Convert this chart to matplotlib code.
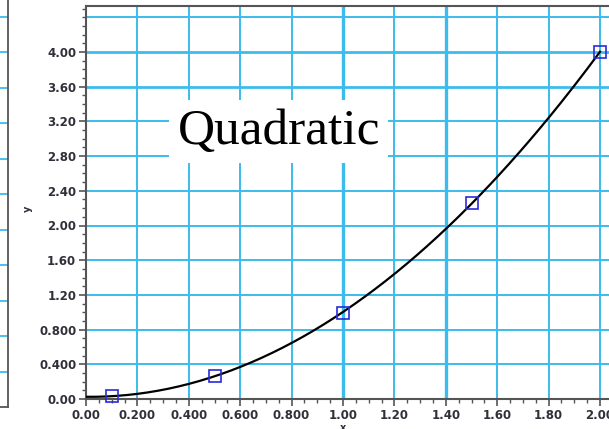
import numpy as np
import matplotlib
matplotlib.use("Agg")
import matplotlib.pyplot as plt
from matplotlib.ticker import FixedLocator, MultipleLocator

# ---- data ----
x_pts = [0.1, 0.5, 1.0, 1.5, 2.0]
y_pts = [0.03, 0.27, 0.99, 2.26, 4.00]
x_ticks = [0.0, 0.2, 0.4, 0.6, 0.8, 1.0, 1.2, 1.4, 1.6, 1.8, 2.0]
x_tick_labels = ["0.00", "0.200", "0.400", "0.600", "0.800", "1.00",
                 "1.20", "1.40", "1.60", "1.80", "2.00"]
y_ticks = [0.0, 0.4, 0.8, 1.2, 1.6, 2.0, 2.4, 2.8, 3.2, 3.6, 4.0]
y_tick_labels = ["0.00", "0.400", "0.800", "1.20", "1.60", "2.00",
                 "2.40", "2.80", "3.20", "3.60", "4.00"]
x_grid = [0.2, 0.4, 0.6, 0.8, 1.0, 1.2, 1.4, 1.6, 1.8, 2.0]
y_grid = [0.4, 0.8, 1.2, 1.6, 2.0, 2.4, 2.8, 3.2, 3.6, 4.0, 4.4]
title_text = "Quadratic"

W, H = 609, 429
fig = plt.figure(figsize=(W / 100, H / 100), dpi=100)

GRID = "#3cbcec"
SPINE = "#555555"
TXT = "#30303a"

# ---- partial neighbouring panel on the left edge ----
ax0 = fig.add_axes([-0.3, (H - 407) / H, 0.3 + 8 / W, 12 * 35.5 / H])
ax0.set_xlim(0, 1)
ax0.set_ylim(0, 12)
for k in range(1, 12):
    ax0.axhline(k, color=GRID, lw=1.3)
for s in ["top", "left"]:
    ax0.spines[s].set_visible(False)
for s in ["right", "bottom"]:
    ax0.spines[s].set_color(SPINE)
    ax0.spines[s].set_linewidth(1.3)
ax0.set_xticks([])
ax0.set_yticks([])

# ---- main axes ----
left = 86 / W
bottom = (H - 399) / H
xmax, ymax = 2.1, 4.53
ax = fig.add_axes([left, bottom, xmax * 257 / W, ymax * 86.75 / H])
ax.set_xlim(0, xmax)
ax.set_ylim(0, ymax)

thick_x = {1.0, 1.4}
thick_y = {4.0, 3.6}
for gx in x_grid:
    ax.axvline(gx, color=GRID, lw=2.4 if gx in thick_x else 1.4, zorder=1)
for gy in y_grid:
    ax.axhline(gy, color=GRID, lw=2.0 if gy in thick_y else 1.4, zorder=1)

# fitted curve through the points
coef = np.polyfit(x_pts, y_pts, 2)
xc = np.linspace(0, 2.0, 200)
yc = np.clip(np.polyval(coef, xc), 0, None)
ax.plot(xc, yc, color="black", lw=1.6, zorder=3)
ax.plot(x_pts, y_pts, ls="none", marker="s", ms=8, mfc="none",
        mec="#2a2ad8", mew=1.2, zorder=4, clip_on=False)

ax.text(0.75, 3.08, title_text, family="Liberation Serif", fontsize=37,
        ha="center", va="center", color="black", zorder=5,
        bbox=dict(facecolor="white", edgecolor="none", pad=6))

ax.xaxis.set_major_locator(FixedLocator(x_ticks))
ax.set_xticklabels(x_tick_labels)
ax.xaxis.set_minor_locator(MultipleLocator(0.05))
ax.yaxis.set_major_locator(FixedLocator(y_ticks))
ax.set_yticklabels(y_tick_labels)
ax.yaxis.set_minor_locator(MultipleLocator(0.1))

ax.tick_params(which="major", direction="out", length=5, width=1.2,
               color=SPINE, labelsize=8.5, labelcolor=TXT, pad=2)
ax.tick_params(which="minor", direction="out", length=3, width=1.0,
               color=SPINE)
for lab in ax.get_xticklabels() + ax.get_yticklabels():
    lab.set_fontweight("bold")

for s in ["left", "bottom", "top"]:
    ax.spines[s].set_color(SPINE)
    ax.spines[s].set_linewidth(1.5)
ax.spines["right"].set_visible(False)

fig.text(28 / W, 1 - 209 / H, "y", rotation=90, ha="center", va="center",
         fontsize=7, fontweight="bold", color=TXT)
fig.text(343 / W, 1 - 428 / H, "x", ha="center", va="center",
         fontsize=7, fontweight="bold", color=TXT)

fig.savefig("out.png", dpi=100)
